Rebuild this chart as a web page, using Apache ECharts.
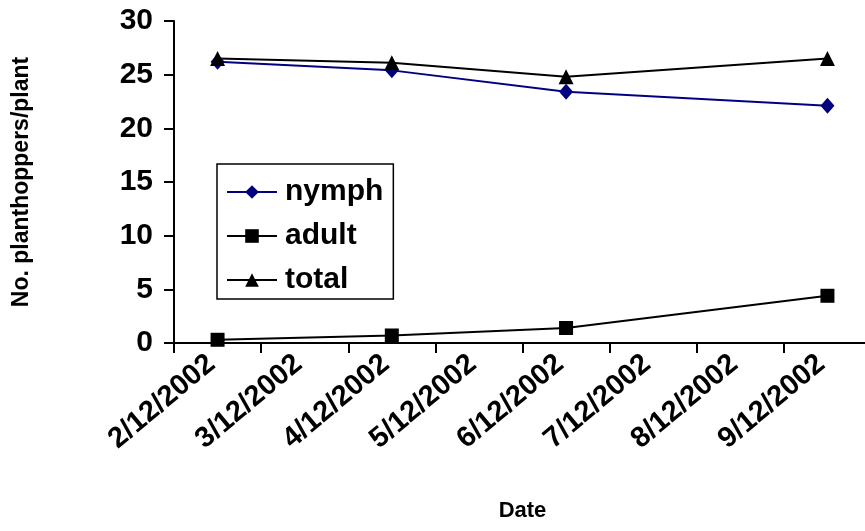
<!DOCTYPE html>
<html>
<head>
<meta charset="utf-8">
<script src="https://cdn.jsdelivr.net/npm/echarts@6/dist/echarts.min.js"></script>
<style>
  html, body { margin: 0; padding: 0; background: #ffffff; overflow: hidden; width: 865px; height: 531px; }
  /* the plot runs past the right edge of the window, so the canvas is wider than the page */
  #chart { width: 880px; height: 531px; }
</style>
</head>
<body>
<div id="chart"></div>
<script>
// Sampling dates (day/month/year); days without counts are left empty
const dates = ['2/12/2002', '3/12/2002', '4/12/2002', '5/12/2002',
               '6/12/2002', '7/12/2002', '8/12/2002', '9/12/2002'];
const nymph = [26.2, null, 25.4, null, 23.4, null, null, 22.1];
const adult = [0.3, null, 0.7, null, 1.4, null, null, 4.4];
const total = [26.5, null, 26.1, null, 24.8, null, null, 26.5];
const yTicks = { min: 0, max: 30, step: 5 };

const FONT = '"Liberation Sans", Arial, sans-serif';

const chart = echarts.init(document.getElementById('chart'), null, { renderer: 'canvas' });

function lineSeries(name, values, color, symbol, size) {
  return {
    name: name,
    type: 'line',
    data: values,
    connectNulls: true,
    symbol: symbol,
    symbolSize: size,
    showSymbol: true,
    lineStyle: { color: color, width: 2 },
    itemStyle: { color: color, borderWidth: 0 },
    emphasis: { disabled: true }
  };
}

chart.setOption({
  animation: false,
  backgroundColor: '#ffffff',
  textStyle: { fontFamily: FONT },
  grid: { left: 174, top: 21, width: 697, height: 322, containLabel: false },
  legend: {
    orient: 'vertical',
    left: 217,
    top: 164,
    padding: [11, 10, 2, 9],
    itemGap: 10,
    itemWidth: 50,
    itemHeight: 17,
    borderColor: '#000000',
    borderWidth: 1.5,
    backgroundColor: '#ffffff',
    textStyle: { fontFamily: FONT, fontWeight: 'bold', fontSize: 30, color: '#000000', lineHeight: 34, padding: [0, 0, 0, 3] },
    data: ['nymph', 'adult', 'total']
  },
  xAxis: {
    type: 'category',
    data: dates,
    boundaryGap: true,
    name: 'Date',
    nameLocation: 'middle',
    nameGap: 157,
    nameTextStyle: { fontFamily: FONT, fontWeight: 'bold', fontSize: 22, color: '#000000' },
    axisLine: { lineStyle: { color: '#000000', width: 2 } },
    axisTick: { show: true, length: 10, lineStyle: { color: '#000000', width: 2 } },
    axisLabel: {
      interval: 0,
      rotate: 40,
      margin: 12,
      padding: [0, 8, 18, 0],
      fontFamily: FONT,
      fontWeight: 'bold',
      fontSize: 29,
      color: '#000000'
    },
    splitLine: { show: false }
  },
  yAxis: {
    type: 'value',
    min: yTicks.min,
    max: yTicks.max,
    interval: yTicks.step,
    name: 'No. planthoppers/plant',
    nameLocation: 'middle',
    nameGap: 141,
    nameRotate: 90,
    nameTextStyle: { fontFamily: FONT, fontWeight: 'bold', fontSize: 23, color: '#000000' },
    axisLine: { show: true, lineStyle: { color: '#000000', width: 2 } },
    axisTick: { show: true, length: 10, lineStyle: { color: '#000000', width: 2 } },
    axisLabel: { margin: 21, fontFamily: FONT, fontWeight: 'bold', fontSize: 30, color: '#000000' },
    splitLine: { show: false }
  },
  series: [
    lineSeries('nymph', nymph, '#000080', 'diamond', [14, 16]),
    lineSeries('adult', adult, '#000000', 'rect', 14),
    lineSeries('total', total, '#000000', 'triangle', 15)
  ]
});
</script>
</body>
</html>
